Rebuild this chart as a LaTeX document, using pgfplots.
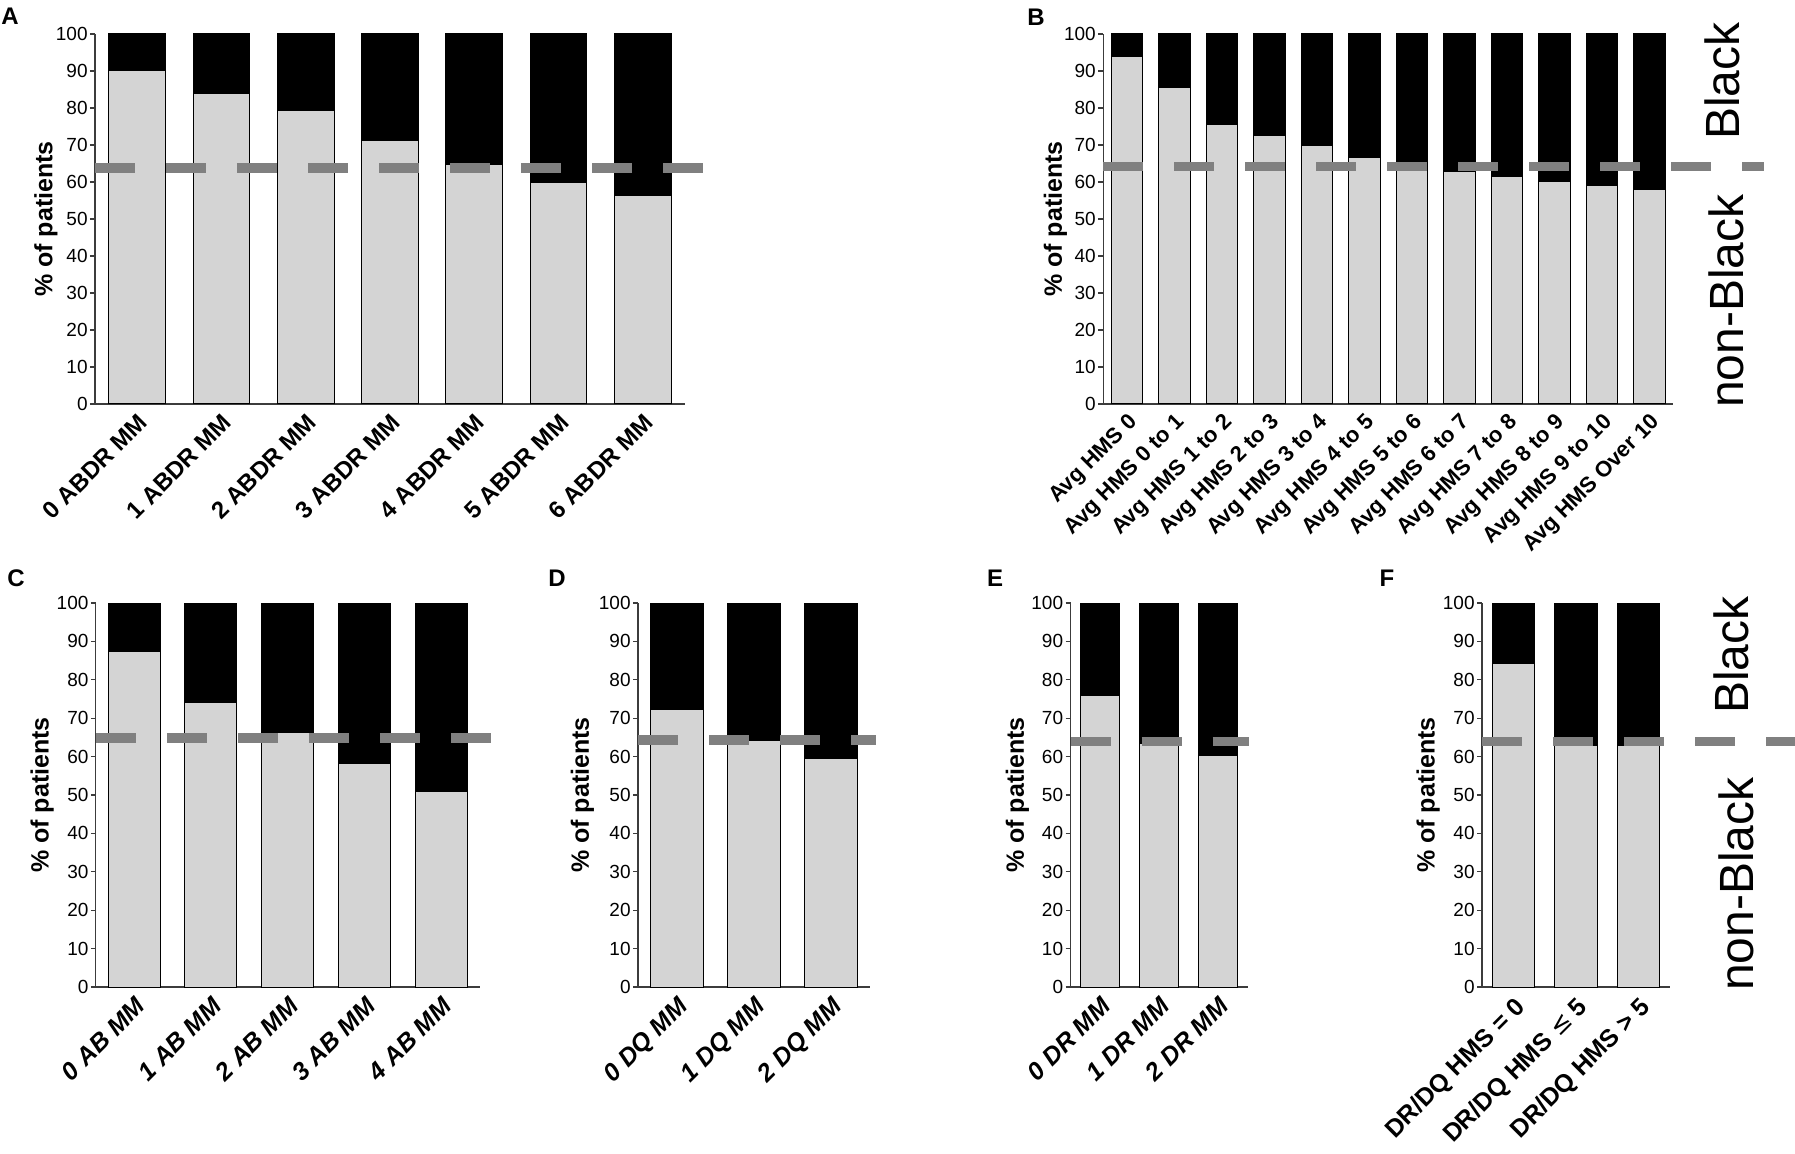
\documentclass[border=0pt]{standalone}
\usepackage{fontspec}
\setmainfont{Liberation Sans}
\newfontfamily\djv{DejaVu Sans}
\usepackage{pgfplots}
\pgfplotsset{compat=1.18}
\definecolor{nb}{RGB}{212,212,212}
\definecolor{dashg}{RGB}{128,128,128}
\definecolor{axg}{RGB}{60,60,60}
\pgfplotsset{
  panel/.style={
    scale only axis, height=185pt, ymin=0, ymax=100, ytick={0,10,...,100},
    enlargelimits=false,
    ybar stacked, bar width=#1, reverse stacked plots=false,
    axis x line*=bottom, axis y line*=left,
    axis line style={-, axg, line width=0.7pt},
    xtick style={draw=none}, ytick style={axg, line width=0.6pt},
    tick align=outside, major tick length=2.5pt,
    /pgf/number format/assume math mode=true,
    yticklabel style={font=\fontsize{9.5}{10}\selectfont, inner sep=1pt},
    xticklabel style={rotate=45, anchor=north east, inner sep=1pt, font=\bfseries\fontsize{12}{12}\selectfont},
    ylabel={\% of patients},
    ylabel style={font=\bfseries\fontsize{12.5}{13}\selectfont, anchor=center},
    clip=false,
  },
  nbbar/.style={fill=nb, draw=black, line width=0.5pt},
  bbar/.style={fill=black, draw=black, line width=0.5pt},
  dashln/.style={stack plots=false, sharp plot, no markers, draw=dashg, line width=4.7pt, dash pattern=on 20pt off 15.5pt, line cap=butt},
}
\begin{document}
\begin{tikzpicture}
\path[use as bounding box] (0,0) rectangle (897.5pt,576.5pt);

% Panel A
\begin{axis}[panel=28.35pt, at={(47.5pt,374.5pt)}, anchor=south west, width=295pt,
  xmin=-0.5, xmax=6.5, xtick={0,...,6},
  xticklabels={0 ABDR MM,1 ABDR MM,2 ABDR MM,3 ABDR MM,4 ABDR MM,5 ABDR MM,6 ABDR MM},
  ylabel style={at={(axis description cs:-0.083,0.5)}}]
\addplot[nbbar] coordinates {(0,90.1) (1,84.0) (2,79.3) (3,71.3) (4,64.6) (5,59.8) (6,56.4)};
\addplot[bbar] coordinates {(0,9.9) (1,16.0) (2,20.7) (3,28.7) (4,35.4) (5,40.2) (6,43.6)};
\addplot[dashln] coordinates {(-0.5,63.8) (6.72,63.8)};
\end{axis}

% Panel B
\begin{axis}[panel=15.8pt, at={(551.6pt,374.5pt)}, anchor=south west, width=285pt,
  xmin=-0.5, xmax=11.5, xtick={0,...,11},
  xticklabels={Avg HMS 0,Avg HMS 0 to 1,Avg HMS 1 to 2,Avg HMS 2 to 3,Avg HMS 3 to 4,Avg HMS 4 to 5,Avg HMS 5 to 6,Avg HMS 6 to 7,Avg HMS 7 to 8,Avg HMS 8 to 9,Avg HMS 9 to 10,Avg HMS Over 10},
  xticklabel style={font=\bfseries\fontsize{11}{12}\selectfont},
  ylabel style={at={(axis description cs:-0.084,0.5)}}]
\addplot[nbbar] coordinates {(0,93.8) (1,85.6) (2,75.5) (3,72.7) (4,69.8) (5,66.6) (6,63.8) (7,62.9) (8,61.6) (9,60.1) (10,59.1) (11,58.1)};
\addplot[bbar] coordinates {(0,6.2) (1,14.4) (2,24.5) (3,27.3) (4,30.2) (5,33.4) (6,36.2) (7,37.1) (8,38.4) (9,39.9) (10,40.9) (11,41.9)};
\addplot[dashln] coordinates {(-0.5,64.2) (13.41,64.2)};
\end{axis}

% Panel C
\begin{axis}[panel=26pt, at={(47.9pt,83pt)}, anchor=south west, width=191.9pt, height=192pt,
  xmin=-0.5, xmax=4.5, xtick={0,...,4},
  xticklabels={0 AB MM,1 AB MM,2 AB MM,3 AB MM,4 AB MM},
  xticklabel style={font=\bfseries\itshape\fontsize{12.5}{13}\selectfont},
  ylabel style={at={(axis description cs:-0.14,0.5)}}]
\addplot[nbbar] coordinates {(0,87.3) (1,74.0) (2,66.4) (3,58.2) (4,50.8)};
\addplot[bbar] coordinates {(0,12.7) (1,26.0) (2,33.6) (3,41.8) (4,49.2)};
\addplot[dashln] coordinates {(-0.5,64.8) (4.68,64.8)};
\end{axis}

% Panel D
\begin{axis}[panel=26.5pt, at={(319pt,83pt)}, anchor=south west, width=115.8pt, height=192pt,
  xmin=-0.5, xmax=2.5, xtick={0,...,2},
  xticklabels={0 DQ MM,1 DQ MM,2 DQ MM},
  xticklabel style={font=\bfseries\itshape\fontsize{12.5}{13}\selectfont},
  ylabel style={at={(axis description cs:-0.24,0.5)}}]
\addplot[nbbar] coordinates {(0,72.3) (1,64.3) (2,59.6)};
\addplot[bbar] coordinates {(0,27.7) (1,35.7) (2,40.4)};
\addplot[dashln] coordinates {(-0.5,64.3) (2.58,64.3)};
\end{axis}

% Panel E
\begin{axis}[panel=19.25pt, at={(535.25pt,83pt)}, anchor=south west, width=88.5pt, height=192pt,
  xmin=-0.5, xmax=2.5, xtick={0,...,2},
  xticklabels={0 DR MM,1 DR MM,2 DR MM},
  xticklabel style={font=\bfseries\itshape\fontsize{12.5}{13}\selectfont},
  ylabel style={at={(axis description cs:-0.30,0.5)}}]
\addplot[nbbar] coordinates {(0,76.0) (1,63.5) (2,60.4)};
\addplot[bbar] coordinates {(0,24.0) (1,36.5) (2,39.6)};
\addplot[dashln] coordinates {(-0.5,64.0) (2.53,64.0)};
\end{axis}

% Panel F
\begin{axis}[panel=21.3pt, at={(741pt,83pt)}, anchor=south west, width=94pt, height=192pt,
  xmin=-0.5, xmax=2.5, xtick={0,...,2},
  xticklabels={DR/DQ HMS = 0,DR/DQ HMS {\djv\mdseries ≤} 5,DR/DQ HMS > 5},
  xticklabel style={font=\bfseries\fontsize{12.5}{13}\selectfont},
  ylabel style={at={(axis description cs:-0.287,0.5)}}]
\addplot[nbbar] coordinates {(0,84.2) (1,62.8) (2,62.8)};
\addplot[bbar] coordinates {(0,15.8) (1,37.2) (2,37.2)};
\addplot[dashln] coordinates {(-0.5,63.9) (4.49,63.9)};
\end{axis}

% panel letters
\foreach \l/\x/\y in {A/5pt/568.5pt, B/518pt/568pt, C/8pt/287.5pt, D/278.5pt/287.5pt, E/497.5pt/287.5pt, F/693.5pt/287.5pt}
  \node[font=\bfseries\fontsize{12}{12}\selectfont, inner sep=0pt] at (\x,\y) {\l};

% side labels
\node[rotate=90, font=\fontsize{24}{24}\selectfont, inner sep=0pt] at (861pt,536pt) {Black};
\node[rotate=90, font=\fontsize{24}{24}\selectfont, inner sep=0pt] at (863pt,426pt) {non-Black};
\node[rotate=90, font=\fontsize{24}{24}\selectfont, inner sep=0pt] at (865.5pt,249pt) {Black};
\node[rotate=90, font=\fontsize{24}{24}\selectfont, inner sep=0pt] at (868pt,134.5pt) {non-Black};
\end{tikzpicture}
\end{document}
